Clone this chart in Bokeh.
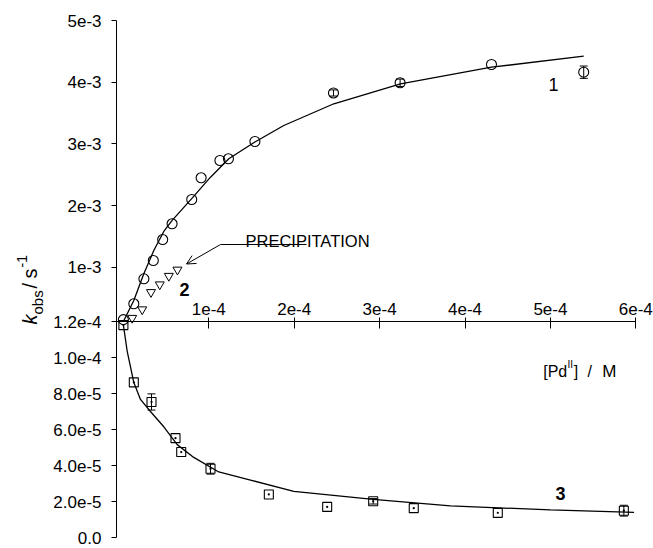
import math
from bokeh.plotting import figure
from bokeh.models import (Range1d, LinearAxis, FixedTicker, Label, Arrow, OpenHead,
                          Whisker, TeeHead, ColumnDataSource)
from bokeh.embed import file_html
from bokeh.resources import INLINE

# ---------------- data ----------------
# series 1 (circles) : k_obs vs [Pd(II)]
x1 = [0.0, 1.22e-5, 2.4e-5, 3.5e-5, 4.6e-5, 5.7e-5, 8.0e-5, 9.1e-5, 1.13e-4, 1.23e-4,
      1.54e-4, 2.46e-4, 3.24e-4, 4.31e-4, 5.39e-4]
y1 = [1.5e-4, 4.07e-4, 8.12e-4, 1.109e-3, 1.449e-3, 1.704e-3, 2.098e-3, 2.450e-3, 2.730e-3,
      2.758e-3, 3.038e-3, 3.825e-3, 3.990e-3, 4.287e-3, 4.162e-3]
e1_x = [2.46e-4, 3.24e-4, 5.39e-4]
e1_y = [3.825e-3, 3.990e-3, 4.162e-3]
e1_err = [0.05e-3, 0.06e-3, 0.10e-3]

# fitted curve 1
c1_x = [0.0, 1.22e-5, 2.39e-5, 3.56e-5, 4.73e-5, 5.71e-5, 7.97e-5, 1.02e-4, 1.234e-4,
        1.535e-4, 1.878e-4, 2.464e-4, 3.245e-4, 4.31e-4, 5.39e-4]
c1_y = [1.2e-4, 4.6e-4, 8.93e-4, 1.271e-3, 1.58e-3, 1.76e-3, 2.109e-3, 2.46e-3, 2.758e-3,
        3.027e-3, 3.298e-3, 3.65e-3, 3.974e-3, 4.243e-3, 4.421e-3]

# series 2 (triangles, precipitation)
x2 = [1.03e-5, 2.2e-5, 3.23e-5, 4.26e-5, 5.32e-5, 6.33e-5]
y2 = [1.77e-4, 3.15e-4, 5.95e-4, 7.20e-4, 8.58e-4, 9.59e-4]

# series 3 (squares)
x3 = [0.0, 1.22e-5, 3.29e-5, 6.1e-5, 6.77e-5, 1.02e-4, 1.703e-4, 2.386e-4, 2.925e-4,
      3.40e-4, 4.384e-4, 5.86e-4]
y3 = [1.18e-4, 8.62e-5, 7.53e-5, 5.52e-5, 4.75e-5, 3.82e-5, 2.39e-5, 1.70e-5, 2.01e-5,
      1.63e-5, 1.37e-5, 1.49e-5]
e3_x = [3.29e-5, 1.02e-4, 2.925e-4, 5.86e-4]
e3_y = [7.53e-5, 3.82e-5, 2.01e-5, 1.49e-5]
e3_err = [0.45e-5, 0.30e-5, 0.15e-5, 0.30e-5]

# fitted curve 3
c3_x = [0.0, 4.4e-6, 1.22e-5, 2.0e-5, 3.17e-5, 4.73e-5, 6.3e-5, 8.24e-5, 1.117e-4,
        1.488e-4, 1.995e-4, 2.925e-4, 3.83e-4, 5.0e-4, 5.98e-4]
c3_y = [1.18e-4, 1.036e-4, 8.61e-5, 7.67e-5, 7.0e-5, 6.15e-5, 5.16e-5, 4.45e-5, 3.64e-5,
        3.19e-5, 2.56e-5, 2.12e-5, 1.76e-5, 1.53e-5, 1.40e-5]

# ticks
x_ticks = [1e-4, 2e-4, 3e-4, 4e-4, 5e-4, 6e-4]
x_labels = ["1e-4", "2e-4", "3e-4", "4e-4", "5e-4", "6e-4"]
up_ticks = [1.2e-4, 1e-3, 2e-3, 3e-3, 4e-3, 5e-3]
up_labels = ["1.2e-4", "1e-3", "2e-3", "3e-3", "4e-3", "5e-3"]
lo_ticks = [0.0, 2e-5, 4e-5, 6e-5, 8e-5, 1e-4]
lo_labels = ["0.0", "2.0e-5", "4.0e-5", "6.0e-5", "8.0e-5", "1.0e-4"]
SPLIT = 1.2e-4

# ---------------- layout (page pixels) ----------------
W, H = 653, 548
AXIS_X = 116      # page x of the vertical axis
SPLIT_Y = 321     # page y of the horizontal axis (k = 1.2e-4)
ZERO_Y = 537      # page y of k = 0 in the lower panel
FONT = "Liberation Sans"

def dx(px):
    return (px - 122.9) / 85.4 * 1e-4

def dyu(py):
    return SPLIT + (SPLIT_Y - py) / 61.68 * 1e-3

def dyl(py):
    return (ZERO_Y - py) / (ZERO_Y - SPLIT_Y) * SPLIT

x_range = Range1d(dx(0), dx(W))
y_range = Range1d(dyu(H), dyu(0))
low_range = Range1d(dyl(H), dyl(0))

p = figure(width=W, height=H, output_backend="svg", toolbar_location=None,
           x_range=x_range, y_range=y_range,
           x_axis_location=None, y_axis_location=None,
           min_border=0, min_border_left=0, min_border_right=0,
           min_border_top=0, min_border_bottom=0)
p.extra_y_ranges = {"low": low_range}
p.grid.visible = False
p.outline_line_color = None
p.background_fill_color = "white"
p.border_fill_color = "white"


def low_to_main(v):
    # position of a lower-panel value on the main (upper) y scale
    f = (v - low_range.start) / (low_range.end - low_range.start)
    return y_range.start + f * (y_range.end - y_range.start)


y_tick_pos = [low_to_main(v) for v in lo_ticks] + up_ticks
y_tick_lab = lo_labels + up_labels

yax = LinearAxis(fixed_location=dx(AXIS_X),
                 ticker=FixedTicker(ticks=y_tick_pos, minor_ticks=[]),
                 bounds=(low_to_main(0.0), 5e-3),
                 major_label_overrides=dict(zip(y_tick_pos, y_tick_lab)))
xax = LinearAxis(fixed_location=SPLIT, bounds=(dx(AXIS_X - 3), 6e-4),
                 ticker=FixedTicker(ticks=x_ticks, minor_ticks=[]),
                 major_label_overrides=dict(zip(x_ticks, x_labels)))
for ax in (yax, xax):
    ax.axis_line_color = "black"
    ax.axis_line_width = 1
    ax.major_tick_line_color = "black"
    ax.minor_tick_line_color = None
    ax.major_label_text_font = FONT
    ax.major_label_text_font_size = "17px"
    ax.major_label_text_color = "black"
yax.major_tick_out = 5
yax.major_tick_in = 0
yax.major_label_standoff = 10
xax.major_tick_out = 4
xax.major_tick_in = 7
xax.major_label_standoff = 3
p.add_layout(yax, "left")
p.add_layout(xax, "above")

# ---------------- curves & markers ----------------
p.line(c1_x, c1_y, line_color="black", line_width=1.3)
p.line(c3_x, c3_y, line_color="black", line_width=1.3, y_range_name="low")

src_e1 = ColumnDataSource(dict(base=e1_x,
                               lower=[c - e for c, e in zip(e1_y, e1_err)],
                               upper=[c + e for c, e in zip(e1_y, e1_err)]))
p.add_layout(Whisker(source=src_e1, base="base", lower="lower", upper="upper",
                     dimension="height", line_color="black", line_width=1,
                     upper_head=TeeHead(size=8, line_color="black", line_width=1),
                     lower_head=TeeHead(size=8, line_color="black", line_width=1)))
src_e3 = ColumnDataSource(dict(base=e3_x,
                               lower=[c - e for c, e in zip(e3_y, e3_err)],
                               upper=[c + e for c, e in zip(e3_y, e3_err)]))
p.add_layout(Whisker(source=src_e3, base="base", lower="lower", upper="upper",
                     dimension="height", line_color="black", line_width=1,
                     y_range_name="low",
                     upper_head=TeeHead(size=8, line_color="black", line_width=1),
                     lower_head=TeeHead(size=8, line_color="black", line_width=1)))

p.scatter(x1, y1, marker="circle", size=10, fill_color=None, line_color="black", line_width=1.1)
p.scatter(x2, y2, marker="inverted_triangle", size=9, fill_color=None, line_color="black", line_width=1)
p.scatter(x3, y3, marker="square_dot", size=9, fill_color=None, line_color="black", line_width=1.1,
          y_range_name="low")

# ---------------- annotations ----------------
def lab(x, y, text, size="16px", style="normal", align="left", baseline="alphabetic",
        angle=0.0, y_range_name="default"):
    p.add_layout(Label(x=x, y=y, text=text, text_font=FONT, text_font_size=size,
                       text_font_style=style, text_align=align, text_baseline=baseline,
                       text_color="black", angle=angle, y_range_name=y_range_name))

lab(dx(553), dyu(83.5), "1", size="18px", align="center", baseline="middle")
lab(dx(184), dyu(289), "2", size="18px", style="bold", align="center", baseline="middle")
lab(dx(560), 2.43e-5, "3", size="18px", style="bold", align="center", baseline="middle",
    y_range_name="low")

lab(dx(245), dyu(240.7), "PRECIPITATION", size="16.5px")
p.add_layout(Arrow(start=None, end=None, x_start=dx(220), y_start=dyu(244),
                   x_end=dx(306), y_end=dyu(244), line_color="black", line_width=1))
p.add_layout(Arrow(end=OpenHead(size=9, line_color="black", line_width=1),
                   x_start=dx(220), y_start=dyu(244), x_end=dx(186), y_end=dyu(263.5),
                   line_color="black", line_width=1))

# x-axis title "[Pd^II] / M"
lab(dx(542.7), dyu(371), "[Pd", size="16px")
lab(dx(567), dyu(363.5), "II", size="10px")
lab(dx(573.3), dyu(371), "]", size="16px")
lab(dx(587), dyu(371), "/", size="16px")
lab(dx(601.7), dyu(371), "M", size="17px")

# y-axis title "k_obs / s^-1" (rotated, reading upwards)
A = math.pi / 2
lab(dx(29), dyu(324), "k", size="20px", style="italic", angle=A)
lab(dx(37), dyu(314), "obs", size="15px", angle=A)
lab(dx(29), dyu(288), "/", size="20px", angle=A)
lab(dx(29), dyu(278), "s", size="20px", angle=A)
lab(dx(21.5), dyu(267), "-1", size="14px", angle=A)

open("out.html", "w").write(file_html(p, INLINE))
